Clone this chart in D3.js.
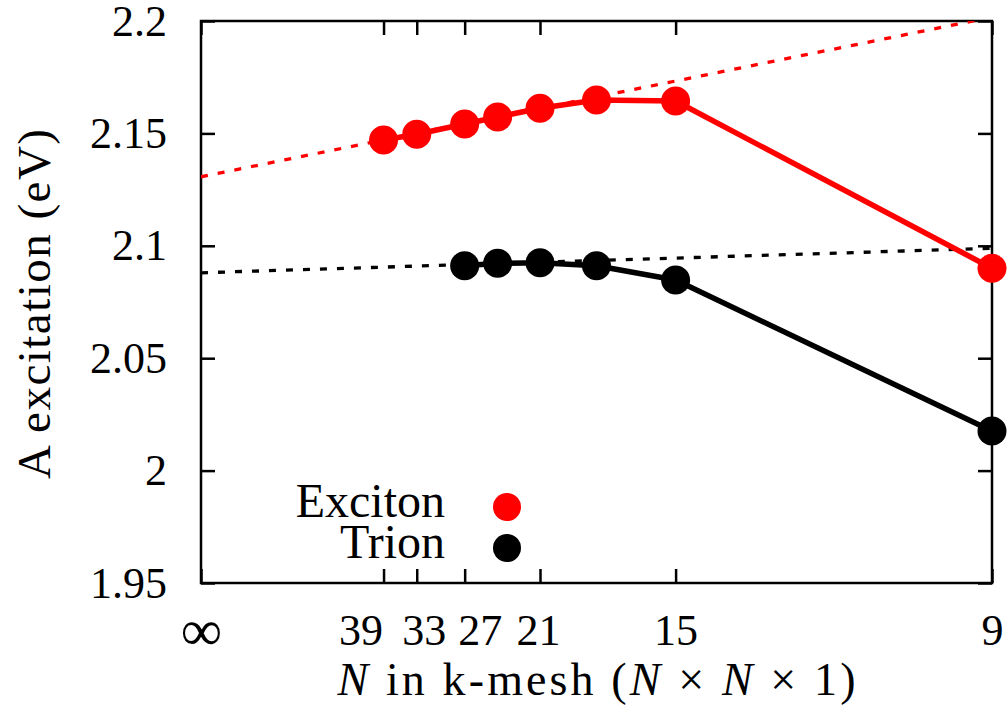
<!DOCTYPE html>
<meta charset="utf-8">
<html>
<head>
<style>
  body { margin: 0; background: #fff; }
  text { font-family: "Liberation Serif", "Times New Roman", serif; fill: #000; }
</style>
</head>
<body>
<div id="chart"></div>
<script src="https://d3js.org/d3.v7.min.js"></script>
<script>
// k-mesh sizes (N) and energies in eV
var excitonN = [39, 33, 27, 24, 21, 18, 15, 9];
var excitonE = [2.1471, 2.1496, 2.1542, 2.1573, 2.1612, 2.1649, 2.1644, 2.0900];
var trionN = [27, 24, 21, 18, 15, 9];
var trionE = [2.0911, 2.0922, 2.0925, 2.0911, 2.0848, 2.0176];

// extrapolation lines, from N = infinity to N = 9
var fitN = [Infinity, 9];
var excitonFitE = [2.1307, 2.2017];
var trionFitE = [2.0880, 2.0989];

var xTickN = [Infinity, 39, 33, 27, 21, 15, 9];
var xTickLabels = ["∞", "39", "33", "27", "21", "15", "9"];
var yTicks = [1.95, 2, 2.05, 2.1, 2.15, 2.2];
var yTickLabels = ["1.95", "2", "2.05", "2.1", "2.15", "2.2"];

(function () {
var W = 1008, H = 715;
var mL = 201, mR = 992, mT = 21, mB = 583;
var fs = 44;
// crowded labels are pushed sideways so they don't collide
var labelShift = [0, -23, 7, 15, -2, 0, 0];

var svg = d3.select("#chart").append("svg")
    .attr("width", W).attr("height", H);

var x = d3.scaleLinear().domain([0, 1 / 9]).range([mL, mR]);
var y = d3.scaleLinear().domain([1.95, 2.2]).range([mB, mT]);
var xn = function (n) { return x(1 / n); };

svg.append("defs").append("clipPath").attr("id", "plotclip")
  .append("rect")
    .attr("x", mL).attr("y", mT)
    .attr("width", mR - mL).attr("height", mB - mT);

// axes, ticks pointing inward on all four sides
var xVals = xTickN.map(function (n) { return 1 / n; });
var bottomAxis = d3.axisBottom(x)
    .tickValues(xVals)
    .tickFormat(function (d, i) { return xTickLabels[i]; })
    .tickSize(-14).tickPadding(31);
var topAxis = d3.axisTop(x)
    .tickValues(xVals).tickFormat("").tickSize(-14);
var leftAxis = d3.axisLeft(y)
    .tickValues(yTicks)
    .tickFormat(function (d, i) { return yTickLabels[i]; })
    .tickSize(-14).tickPadding(34);
var rightAxis = d3.axisRight(y)
    .tickValues(yTicks).tickFormat("").tickSize(-14);

function styleAxis(g) {
    g.select(".domain").remove();
    g.selectAll(".tick line").attr("stroke", "#000").attr("stroke-width", 2.5);
    g.selectAll(".tick text")
        .style("font-family", "'Liberation Serif', serif")
        .style("font-size", fs + "px").attr("fill", "#000");
}

var gx = svg.append("g").attr("transform", "translate(0," + mB + ")").call(bottomAxis).call(styleAxis);
gx.selectAll(".tick text").attr("dx", function (d, i) { return labelShift[i]; });
// the infinity sign is drawn bigger, like the TeX one
gx.selectAll(".tick text").filter(function (d) { return d === 0; })
    .style("font-size", "58px").attr("dy", "36px");
svg.append("g").attr("transform", "translate(0," + mT + ")").call(topAxis).call(styleAxis);
svg.append("g").attr("transform", "translate(" + mL + ",0)").call(leftAxis).call(styleAxis);
svg.append("g").attr("transform", "translate(" + mR + ",0)").call(rightAxis).call(styleAxis);

svg.append("rect")
    .attr("x", mL).attr("y", mT)
    .attr("width", mR - mL).attr("height", mB - mT)
    .attr("fill", "none").attr("stroke", "#000").attr("stroke-width", 2.5);

var plot = svg.append("g").attr("clip-path", "url(#plotclip)");
var plotFree = svg.append("g");

var line = d3.line()
    .x(function (d) { return xn(d[0]); })
    .y(function (d) { return y(d[1]); });

function drawSeries(ns, es, color) {
    var pts = d3.zip(ns, es);
    plotFree.append("path").datum(pts)
        .attr("d", line)
        .attr("fill", "none").attr("stroke", color)
        .attr("stroke-width", 5.5).attr("stroke-linejoin", "round");
    plotFree.selectAll(null).data(pts).enter().append("circle")
        .attr("cx", function (d) { return xn(d[0]); })
        .attr("cy", function (d) { return y(d[1]); })
        .attr("r", 14.5)
        .attr("fill", color);
}

drawSeries(excitonN, excitonE, "#ff0000");
drawSeries(trionN, trionE, "#000000");

function drawFit(es, color) {
    plot.append("path").datum(d3.zip(fitN, es))
        .attr("d", line)
        .attr("fill", "none").attr("stroke", color)
        .attr("stroke-width", 3.3)
        .attr("stroke-dasharray", "7,10");
}
drawFit(excitonFitE, "#ff0000");
drawFit(trionFitE, "#000000");

// axis titles
svg.append("text")
    .attr("transform", "translate(50," + ((mT + mB) / 2 + 2) + ") rotate(-90)")
    .attr("text-anchor", "middle")
    .attr("textLength", 350).attr("lengthAdjust", "spacing")
    .style("font-size", "47px")
    .text("A excitation (eV)");

var xt = svg.append("text")
    .attr("x", (mL + mR) / 2).attr("y", 695)
    .attr("text-anchor", "middle")
    .attr("textLength", 518).attr("lengthAdjust", "spacing")
    .style("font-size", "46px")
    .attr("xml:space", "preserve");
xt.append("tspan").style("font-style", "italic").text("N");
xt.append("tspan").text(" in k-mesh (");
xt.append("tspan").style("font-style", "italic").text("N");
xt.append("tspan").text(" × ");
xt.append("tspan").style("font-style", "italic").text("N");
xt.append("tspan").text(" × 1)");

// legend
var legendItems = [
    { name: "Exciton", color: "#ff0000" },
    { name: "Trion", color: "#000000" }
];
var lg = svg.append("g");
legendItems.forEach(function (d, i) {
    lg.append("text")
        .attr("x", 445).attr("y", 517 + i * 41)
        .attr("text-anchor", "end")
        .style("font-size", "48px")
        .text(d.name);
    lg.append("circle")
        .attr("cx", 507).attr("cy", 507 + i * 41)
        .attr("r", 14).attr("fill", d.color);
});
})();
</script>
</body>
</html>
